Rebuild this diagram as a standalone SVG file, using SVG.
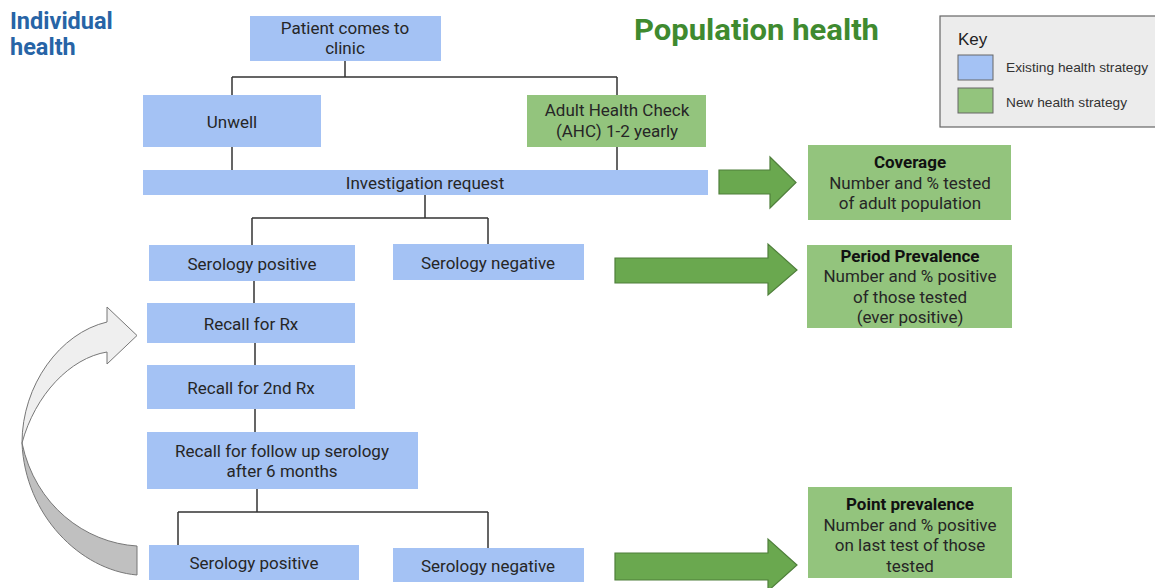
<svg xmlns="http://www.w3.org/2000/svg" width="1155" height="588" viewBox="0 0 1155 588">
<style>
.b{fill:#a4c2f4;}
.g{fill:#93c47d;}
.t{font-family:Roboto,"Liberation Sans",sans-serif;font-size:17px;fill:#262626;text-anchor:middle;}
.tb{font-weight:bold;fill:#111;}
.c{stroke:#333;stroke-width:1.5;fill:none;}
.ga{fill:#6aa84f;stroke:#4f7f3b;stroke-width:1.2;}
.k{font-family:"Liberation Sans",Arial,sans-serif;font-size:13px;fill:#333;}
</style>
<rect width="1155" height="588" fill="#ffffff"/>
<g id="titles">
<text x="10" y="29" font-family="Roboto,'Liberation Sans',sans-serif" font-size="23.5" font-weight="bold" fill="#2764a6">Individual</text>
<text x="10" y="55" font-family="Roboto,'Liberation Sans',sans-serif" font-size="23.5" font-weight="bold" fill="#2764a6">health</text>
<text x="634" y="40" font-family="Roboto,'Liberation Sans',sans-serif" font-size="29" font-weight="bold" fill="#3f8a2f" textLength="245" lengthAdjust="spacingAndGlyphs">Population health</text>
</g>
<g id="connectors">
<path class="c" d="M345,61V77M232,77H617M232,77V95M617,77V95"/>
<path class="c" d="M232,147V170M617,147V170"/>
<path class="c" d="M425,195V218M252,218H488M252,218V245M488,218V244"/>
<path class="c" d="M254,281V303M255,343V365M255,409V432"/>
<path class="c" d="M257,489V512M178,512H488M178,512V545M488,512V548"/>
</g>
<g id="patient"><rect class="b" x="250" y="16" width="191" height="45"/><text class="t" x="345" y="34">Patient comes to</text><text class="t" x="345" y="54">clinic</text></g>
<g id="unwell"><rect class="b" x="143" y="95" width="178" height="52"/><text class="t" x="232" y="128">Unwell</text></g>
<g id="ahc"><rect class="g" x="527" y="95" width="179" height="52"/><text class="t" x="617" y="116">Adult Health Check</text><text class="t" x="617" y="137">(AHC) 1-2 yearly</text></g>
<g id="investigation"><rect class="b" x="143" y="170" width="565" height="25"/><text class="t" x="425" y="189">Investigation request</text></g>
<g id="serpos1"><rect class="b" x="149" y="245" width="206" height="36"/><text class="t" x="252" y="270">Serology positive</text></g>
<g id="serneg1"><rect class="b" x="393" y="244" width="191" height="36"/><text class="t" x="488" y="269">Serology negative</text></g>
<g id="recallrx"><rect class="b" x="147" y="303" width="208" height="40"/><text class="t" x="251" y="330">Recall for Rx</text></g>
<g id="recall2rx"><rect class="b" x="147" y="365" width="208" height="44"/><text class="t" x="251" y="394">Recall for 2nd Rx</text></g>
<g id="followup"><rect class="b" x="147" y="432" width="271" height="57"/><text class="t" x="282" y="457">Recall for follow up serology</text><text class="t" x="282" y="477">after 6 months</text></g>
<g id="serpos2"><rect class="b" x="149" y="545" width="210" height="35"/><text class="t" x="254" y="569">Serology positive</text></g>
<g id="serneg2"><rect class="b" x="393" y="548" width="191" height="34"/><text class="t" x="488" y="572">Serology negative</text></g>
<g id="arrows">
<polygon class="ga" points="719,170 770,170 770,157 796,182.5 770,208 770,194 719,194"/>
<polygon class="ga" points="615,258 768,258 768,244 797,270 768,295 768,283 615,283"/>
<polygon class="ga" points="615,553 768,553 768,539 797,565 768,591 768,580 615,580"/>
</g>
<g id="coverage"><rect class="g" x="808" y="145" width="203" height="75"/><text class="t tb" x="910" y="168">Coverage</text><text class="t" x="910" y="189">Number and % tested</text><text class="t" x="910" y="209">of adult population</text></g>
<g id="period"><rect class="g" x="807" y="245" width="205" height="83"/><text class="t tb" x="910" y="262">Period Prevalence</text><text class="t" x="910" y="282">Number and % positive</text><text class="t" x="910" y="303">of those tested</text><text class="t" x="910" y="323">(ever positive)</text></g>
<g id="point"><rect class="g" x="808" y="487" width="204" height="91"/><text class="t tb" x="910" y="510">Point prevalence</text><text class="t" x="910" y="531">Number and % positive</text><text class="t" x="910" y="551">on last test of those</text><text class="t" x="910" y="572">tested</text></g>
<g id="loop">
<path d="M22,443 C25,515 80,570 137,575 L137,546 C85,543 35,505 22,443 Z" fill="#c0c0c0" stroke="#777" stroke-width="1"/>
<path d="M22,443 C22,385 60,333 107,322 L107,307 L137,335.5 L107,364 L107,352 C70,358 35,395 22,443 Z" fill="#efefef" stroke="#777" stroke-width="1"/>
</g>
<g id="key">
<rect x="940" y="16" width="220" height="111" fill="#ececec" stroke="#666" stroke-width="1.2"/>
<text x="958" y="45" font-family="'Liberation Sans',Arial,sans-serif" font-size="17" fill="#222">Key</text>
<rect x="958" y="55" width="35" height="25" fill="#a4c2f4" stroke="#666" stroke-width="1"/>
<rect x="958" y="88" width="35" height="25" fill="#93c47d" stroke="#666" stroke-width="1"/>
<text class="k" x="1006" y="72" textLength="142" lengthAdjust="spacingAndGlyphs">Existing health strategy</text>
<text class="k" x="1006" y="107" textLength="121" lengthAdjust="spacingAndGlyphs">New health strategy</text>
</g>
</svg>
